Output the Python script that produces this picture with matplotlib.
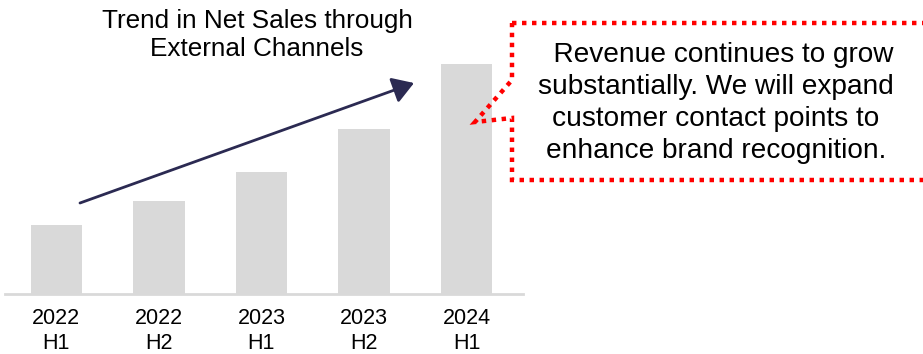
import matplotlib.pyplot as plt
from matplotlib.patches import Polygon, FancyArrowPatch

plt.rcParams["font.family"] = ["Liberation Sans", "DejaVu Sans"]

W, H = 923, 354

periods = ["2022\nH1", "2022\nH2", "2023\nH1", "2023\nH2", "2024\nH1"]
net_sales = [69, 93, 122, 165, 230]

title = "Trend in Net Sales through\nExternal Channels"
note = ("  Revenue continues to grow\nsubstantially. We will expand\n"
        "customer contact points to\nenhance brand recognition.")


def px(x, y):
    # figure pixels (top-left origin) -> figure fraction
    return x / W, 1 - y / H


fig = plt.figure(figsize=(W / 100, H / 100), dpi=100)
axis = fig.add_axes([5 / W, 60 / H, 518 / W, 284 / H])
axis.set_xlim(-0.5, 4.55)
axis.set_ylim(0, 284)

positions = range(len(periods))
axis.bar(positions, net_sales, width=0.5, color="#d9d9d9", zorder=2)

for side in ("top", "right", "left"):
    axis.spines[side].set_visible(False)
axis.spines["bottom"].set_color("#d9d9d9")
axis.spines["bottom"].set_linewidth(2)
axis.set_yticks([])
axis.set_xticks(list(positions))
axis.set_xticklabels(periods, fontsize=15.5, linespacing=1.25)
axis.tick_params(axis="x", length=0, pad=10)

# growth arrow across the bars
arrow = FancyArrowPatch(px(80, 203), px(414, 83), transform=fig.transFigure,
                        arrowstyle="-|>,head_length=8,head_width=5",
                        color="#2b2a52", linewidth=2, mutation_scale=1.6,
                        shrinkA=0, shrinkB=0, zorder=5)
fig.patches.append(arrow)

fig.text(*px(257, 35), title, ha="center", va="center", fontsize=18.8,
         linespacing=1.25)

# dotted callout pointing at the latest half-year
callout = [px(512, 23), px(930, 23), px(930, 180), px(512, 180),
           px(512, 118), px(475, 122), px(512, 80)]
fig.patches.append(Polygon(callout, closed=True, transform=fig.transFigure,
                           fill=False, edgecolor="#ff0000", linewidth=3.2,
                           linestyle=(0, (1.0, 1.25)), joinstyle="miter"))
fig.text(*px(716, 103), note, ha="center", va="center", fontsize=20.2,
         linespacing=1.3)

fig.savefig("out.png", dpi=100)
